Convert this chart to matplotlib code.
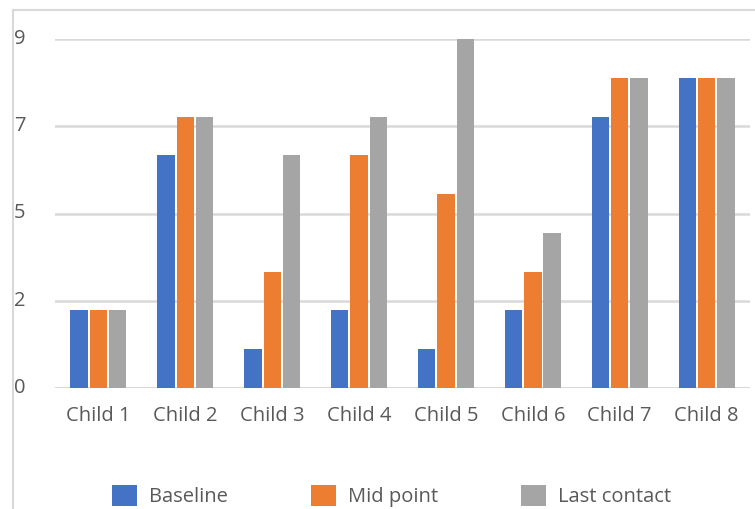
import matplotlib
matplotlib.use("Agg")
import matplotlib.pyplot as plt
from matplotlib.patches import Patch
from matplotlib.lines import Line2D
import numpy as np

categories = ["Child 1", "Child 2", "Child 3", "Child 4",
              "Child 5", "Child 6", "Child 7", "Child 8"]
baseline = [2, 6, 1, 2, 1, 2, 7, 8]
mid_point = [2, 7, 3, 6, 5, 3, 8, 8]
last_contact = [2, 7, 6, 7, 9, 4, 8, 8]
series_names = ["Baseline", "Mid point", "Last contact"]
y_ticks = [0, 2.25, 4.5, 6.75, 9]
y_tick_labels = ["0", "2", "5", "7", "9"]

colors = ["#4472C4", "#ED7D31", "#A5A5A5"]
text_color = "#595959"
grid_color = "#D9D9D9"
font = "Open Sans"
fs = 14.5

W, H = 755, 509
fig = plt.figure(figsize=(W / 100, H / 100), dpi=100)
fig.patch.set_facecolor("white")

# plot area in pixel coordinates
left, right, top, bottom = 55, 750, 39, 388
ax = fig.add_axes([left / W, (H - bottom) / H, (right - left) / W, (bottom - top) / H])

x = np.arange(len(categories))
bw = 0.2
step = 0.222
for i, (vals, name) in enumerate(zip([baseline, mid_point, last_contact], series_names)):
    ax.bar(x + (i - 1) * step, vals, width=bw, color=colors[i], label=name, zorder=3)

ax.set_xlim(-0.5, len(categories) - 0.5)
ax.set_ylim(0, 9)
ax.set_yticks(y_ticks)
ax.set_yticklabels([])
ax.grid(axis="y", color=grid_color, linewidth=1.8, zorder=0)
ax.set_axisbelow(True)
for s in ax.spines.values():
    s.set_visible(False)
ax.axhline(0, color=grid_color, linewidth=2.2, zorder=2)
ax.tick_params(axis="both", length=0)
ax.set_xticks(x)
ax.set_xticklabels(categories, fontsize=fs, color=text_color, family=font)
ax.tick_params(axis="x", pad=13)

# y tick labels sit at the left edge of the chart frame
for v, lab in zip(y_ticks, y_tick_labels):
    ypix = bottom - (bottom - top) * v / 9
    fig.text(14 / W, (H - ypix) / H, lab, fontsize=fs, color=text_color,
             family=font, ha="left", va="center")

# chart frame
fig.add_artist(Line2D([13 / W, 13 / W], [0, (H - 10) / H], color=grid_color,
                      linewidth=1.5, transform=fig.transFigure))
fig.add_artist(Line2D([13 / W, 1], [(H - 10) / H, (H - 10) / H], color=grid_color,
                      linewidth=1.5, transform=fig.transFigure))

handles = [Patch(facecolor=c, edgecolor="none") for c in colors]
fig.legend(handles, series_names, loc="center left",
           bbox_to_anchor=(104 / W, (H - 496) / H), ncol=3, frameon=False,
           handlelength=1.25, handleheight=1.25, handletextpad=0.6,
           columnspacing=4.1, borderaxespad=0,
           prop={"family": font, "size": fs}, labelcolor=text_color)

fig.savefig("out.png", dpi=100, facecolor="white")
